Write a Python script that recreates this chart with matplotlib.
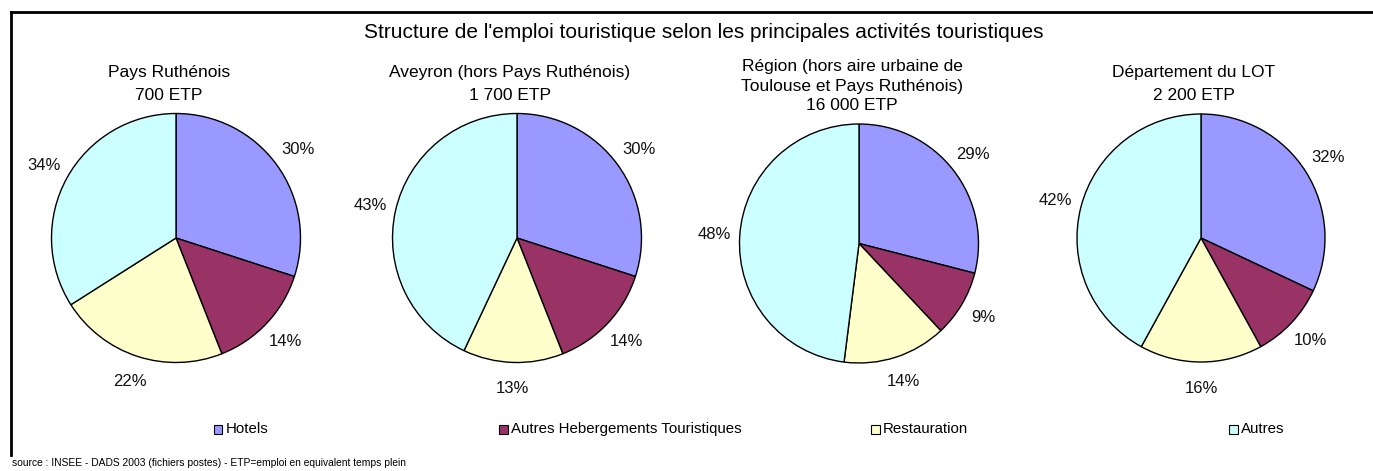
import matplotlib
matplotlib.use("Agg")
import matplotlib.pyplot as plt
from matplotlib.patches import Rectangle
from matplotlib.lines import Line2D

plt.rcParams['font.family'] = ['Liberation Sans', 'DejaVu Sans']

# Data
categories = ["Hotels", "Autres Hebergements Touristiques", "Restauration", "Autres"]
colors = ["#9999FF", "#993366", "#FFFFCC", "#CCFFFF"]
territories = [
    "Pays Ruthénois\n700 ETP",
    "Aveyron (hors Pays Ruthénois)\n1 700 ETP",
    "Région (hors aire urbaine de\nToulouse et Pays Ruthénois)\n16 000 ETP",
    "Département du LOT\n2 200 ETP",
]
shares = [
    [30, 14, 22, 34],
    [30, 14, 13, 43],
    [29, 9, 14, 48],
    [32, 10, 16, 42],
]
title = "Structure de l'emploi touristique selon les principales activités touristiques"
source = "source : INSEE - DADS 2003 (fichiers postes) - ETP=emploi en equivalent temps plein"

W, H = 1373, 471
fig = plt.figure(figsize=(W / 100, H / 100), dpi=100)


def fx(x):
    return x / W


def fy(y):
    return 1 - y / H


# Frame (top and left edges)
fig.add_artist(Line2D([fx(11), fx(W)], [fy(12), fy(12)], color="black", lw=2.0))
fig.add_artist(Line2D([fx(11), fx(11)], [fy(12), fy(455)], color="black", lw=2.0))

fig.text(fx(704), fy(32), title, ha="center", va="center", fontsize=15)

# Pie layout in pixels: centre x, centre y, radius, subtitle line positions
pie_geom = [
    (176, 238, 124.5, [73, 96]),
    (517, 238, 124.5, [73, 96]),
    (859, 243.5, 119.5, [67, 87, 106]),
    (1201, 238, 124, [73, 96]),
]

for (cx, cy, r, ty), vals, name in zip(pie_geom, shares, territories):
    ax = fig.add_axes([fx(cx - r), fy(cy + r), 2 * r / W, 2 * r / H])
    ax.pie(vals, colors=colors, startangle=90, counterclock=False,
           autopct=lambda p: f"{p:.0f}%", pctdistance=1.21,
           wedgeprops=dict(edgecolor="black", linewidth=1.0),
           textprops=dict(fontsize=12, color="#111111"))
    ax.set_xlim(-1, 1)
    ax.set_ylim(-1, 1)
    ax.set_aspect("equal")
    ax.axis("off")
    for line, y in zip(name.split("\n"), ty):
        fig.text(fx(cx - 7), fy(y), line, ha="center", va="center", fontsize=12.5)

# Legend
legend_x = [218, 503, 875, 1233]
legend_y = 429
for x, lab, col in zip(legend_x, categories, colors):
    s = 9
    fig.add_artist(Rectangle((fx(x - s / 2), fy(legend_y + s / 2)), s / W, s / H,
                             facecolor=col, edgecolor="black", lw=0.8))
    fig.text(fx(x + 8), fy(legend_y), lab, ha="left", va="center", fontsize=10.8)

fig.text(fx(12), fy(463), source, ha="left", va="center", fontsize=7.4)

fig.savefig("out.png", dpi=100, facecolor="white")
